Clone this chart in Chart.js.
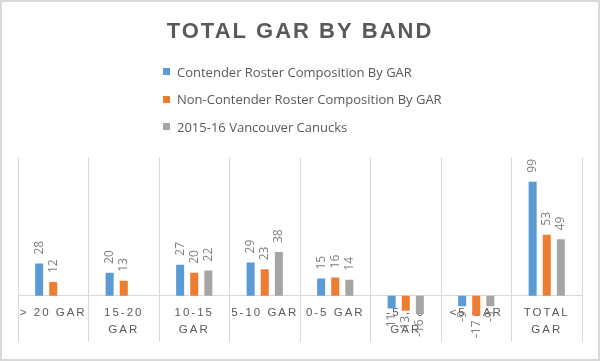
<!DOCTYPE html>
<html>
<head>
    <meta charset="UTF-8">
    <title>Total GAR by Band</title>
    <script src="https://cdn.jsdelivr.net/npm/chart.js@4.4.0/dist/chart.umd.min.js"></script>
    <style>
        body { margin: 0; background: #fff; }
        #wrap { position: relative; width: 600px; height: 361px; }
        #frame { position: absolute; inset: 0; border: 2px solid #d9d9d9; box-sizing: border-box; pointer-events: none; }
        #legend { position: absolute; left: 163px; top: 58px; font: 13px 'Open Sans'; color: #595959; }
        .item { height: 27.5px; display: flex; align-items: center; }
        .box { width: 7px; height: 7px; margin-right: 7px; }
    </style>
</head>
<body>
<div id="wrap">
    <canvas id="garChart"></canvas>
    <div id="legend"></div>
    <div id="frame"></div>
</div>
<script>
    // values
    const categories = ['> 20 GAR', ['15-20', 'GAR'], ['10-15', 'GAR'], '5-10 GAR', '0-5 GAR', ['-5 - 0', 'GAR'], '<5 GAR', ['TOTAL', 'GAR']];
    const contender = [28, 20, 27, 29, 15, -11, -9, 99];
    const nonContender = [12, 13, 20, 23, 16, -13, -17, 53];
    const canucks = [null, null, 22, 38, 14, -16, -9, 49];

    const seriesNames = ['Contender Roster Composition By GAR', 'Non-Contender Roster Composition By GAR', '2015-16 Vancouver Canucks'];
    const seriesColors = ['#5B9BD5', '#ED7D31', '#A5A5A5'];

    // spaced-out letters for title + axis labels, normal for the value labels
    const spacing = {
        id: 'spacing',
        beforeDraw(chart) { chart.ctx.letterSpacing = '2px'; },
        beforeDatasetsDraw(chart) { chart.ctx.letterSpacing = '0px'; }
    };

    const valueLabels = {
        id: 'valueLabels',
        afterDatasetsDraw(chart) {
            const ctx = chart.ctx;
            ctx.save();
            ctx.letterSpacing = '0px';
            ctx.font = '12px "Open Sans"';
            ctx.fillStyle = '#7f7f7f';
            ctx.textBaseline = 'middle';
            chart.data.datasets.forEach((ds, i) => {
                chart.getDatasetMeta(i).data.forEach((bar, j) => {
                    const v = ds.data[j];
                    if (v == null) return;
                    ctx.save();
                    ctx.translate(bar.x, v >= 0 ? bar.y - 9 : bar.y + 5);
                    ctx.rotate(-Math.PI / 2);
                    ctx.textAlign = v >= 0 ? 'left' : 'right';
                    ctx.fillText(String(v), 0, 0);
                    ctx.restore();
                });
            });
            ctx.restore();
        }
    };

    const ctx = document.getElementById('garChart').getContext('2d');
    const garChart = new Chart(ctx, {
        type: 'bar',
        data: {
            labels: categories,
            datasets: [
                { label: seriesNames[0], data: contender, backgroundColor: seriesColors[0] },
                { label: seriesNames[1], data: nonContender, backgroundColor: seriesColors[1] },
                { label: seriesNames[2], data: canucks, backgroundColor: seriesColors[2] }
            ]
        },
        options: {
            responsive: true,
            maintainAspectRatio: false,
            animation: false,
            barPercentage: 0.57,
            categoryPercentage: 0.6,
            layout: { padding: { left: 18, right: 18, bottom: 19 } },
            plugins: {
                legend: { display: false },
                tooltip: { enabled: false },
                title: {
                    display: true,
                    text: 'TOTAL GAR BY BAND',
                    color: '#595959',
                    font: { family: 'Liberation Sans', size: 22, weight: 'bold', lineHeight: 1.2 },
                    padding: { top: 19, bottom: 112 }
                }
            },
            scales: {
                x: {
                    position: { y: 0 },
                    grid: { color: '#d9d9d9', drawTicks: false },
                    border: { color: '#d9d9d9' },
                    ticks: {
                        color: '#595959',
                        font: { family: 'Liberation Sans', size: 11.5, lineHeight: 1.45 },
                        padding: 9,
                        maxRotation: 0,
                        autoSkip: false
                    }
                },
                y: { display: false, min: -40, max: 120 }
            }
        },
        plugins: [spacing, valueLabels]
    });

    // legend stacked and left-aligned, as in the original
    const legend = document.getElementById('legend');
    seriesNames.forEach((name, i) => {
        const item = document.createElement('div');
        item.className = 'item';
        const box = document.createElement('span');
        box.className = 'box';
        box.style.background = seriesColors[i];
        item.appendChild(box);
        item.appendChild(document.createTextNode(name));
        legend.appendChild(item);
    });
</script>
</body>
</html>
